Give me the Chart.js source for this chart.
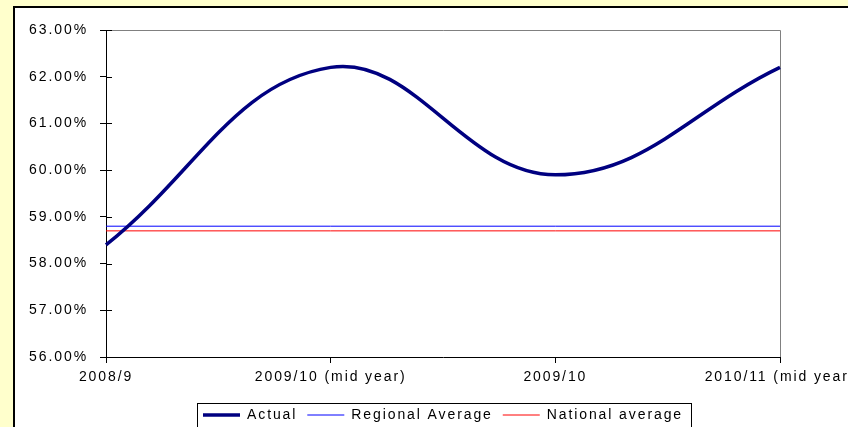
<!DOCTYPE html>
<html>
<head>
<meta charset="utf-8">
<script src="https://cdn.jsdelivr.net/npm/chart.js@4.4.1/dist/chart.umd.min.js"></script>
<style>
html, body { margin: 0; padding: 0; overflow: hidden; background: #ffffcc; width: 848px; height: 427px; }
#wrap { position: absolute; left: 0; top: 0; }
</style>
</head>
<body>
<div id="wrap"><canvas id="chart" width="900" height="432"></canvas></div>
<script>
const years = ["2008/9", "2009/10 (mid year)", "2009/10", "2010/11 (mid year)"];
const actual = [58.4, 62.2, 59.9, 62.2];
const regionalAvg = [58.8, 58.8, 58.8, 58.8];
const nationalAvg = [58.7, 58.7, 58.7, 58.7];
const yMin = 56, yMax = 63, yStep = 1;

Chart.defaults.font.family = '"Liberation Sans", Arial, sans-serif';
Chart.defaults.font.size = 14;
Chart.defaults.color = "#000";

const spacing = chart => { chart.ctx.letterSpacing = "1.9px"; };

// yellow page, white panel, grey plot frame, inner tick marks, legend box
const frame = {
    id: "frame",
    beforeUpdate: spacing,
    beforeDraw(chart) {
        spacing(chart);
        const ctx = chart.ctx;
        ctx.save();
        ctx.fillStyle = "#ffffcc";
        ctx.fillRect(0, 0, chart.width, chart.height);
        ctx.fillStyle = "#fff";
        ctx.fillRect(14, 7, chart.width, chart.height);
        ctx.strokeStyle = "#000";
        ctx.lineWidth = 2;
        ctx.beginPath();
        ctx.moveTo(14, chart.height);
        ctx.lineTo(14, 7);
        ctx.lineTo(chart.width, 7);
        ctx.stroke();
        ctx.restore();
    },
    beforeDatasetsDraw(chart) {
        const a = chart.chartArea, ctx = chart.ctx;
        ctx.save();
        ctx.strokeStyle = "#808080";
        ctx.lineWidth = 1;
        ctx.beginPath();
        ctx.moveTo(a.left, a.top + 0.5);
        ctx.lineTo(a.right + 0.5, a.top + 0.5);
        ctx.lineTo(a.right + 0.5, a.bottom);
        ctx.stroke();
        ctx.restore();
    },
    afterDraw(chart) {
        const ctx = chart.ctx, y = chart.scales.y;
        ctx.save();
        ctx.strokeStyle = "#000";
        ctx.lineWidth = 1;
        ctx.beginPath();
        y.ticks.forEach(t => {
            const py = Math.round(y.getPixelForValue(t.value)) + 0.5;
            ctx.moveTo(y.right, py);
            ctx.lineTo(y.right + 6, py);
        });
        ctx.stroke();
        const hb = chart.legend.legendHitBoxes;
        if (hb.length) {
            const first = hb[0], last = hb[hb.length - 1];
            const left = Math.round(first.left - 6) + 0.5;
            const right = Math.round(last.left + last.width + 8) + 0.5;
            const top = Math.round(first.top - 5) + 0.5;
            ctx.strokeRect(left, top, right - left, chart.height);
        }
        ctx.restore();
    }
};

new Chart(document.getElementById("chart"), {
    type: "line",
    data: {
        labels: years,
        datasets: [
            { label: "Actual", data: actual, borderColor: "#000080", backgroundColor: "#000080",
              pointBorderColor: "#000080", pointBorderWidth: 3.5, borderWidth: 3.5, tension: 0.4 },
            { label: "Regional Average", data: regionalAvg, borderColor: "#0000ff", backgroundColor: "#0000ff",
              pointBorderColor: "#0000ff", pointBorderWidth: 1, borderWidth: 1 },
            { label: "National average", data: nationalAvg, borderColor: "#ff0000", backgroundColor: "#ff0000",
              pointBorderColor: "#ff0000", pointBorderWidth: 1, borderWidth: 1 }
        ]
    },
    options: {
        responsive: false,
        animation: false,
        devicePixelRatio: 1,
        elements: { point: { radius: 0 } },
        layout: { padding: { left: 0, top: 30, right: 120, bottom: 0 } },
        plugins: {
            tooltip: { enabled: false },
            legend: {
                position: "bottom",
                fullSize: false,
                labels: { usePointStyle: true, pointStyle: "line", pointStyleWidth: 37, padding: 10, color: "#000" }
            }
        },
        scales: {
            x: {
                offset: false,
                grid: { drawOnChartArea: false, tickLength: 6, color: "#000" },
                border: { color: "#000" },
                ticks: { padding: 6, maxRotation: 0, autoSkip: false, color: "#000" },
                afterFit: s => { s.height = 41; }
            },
            y: {
                min: yMin, max: yMax,
                grid: { drawOnChartArea: false, tickLength: 6, color: "#000" },
                border: { color: "#000" },
                ticks: { stepSize: yStep, padding: 12, color: "#000", callback: v => v.toFixed(2) + "%" },
                afterFit: s => { s.width = 106; }
            }
        }
    },
    plugins: [frame]
});
</script>
</body>
</html>
